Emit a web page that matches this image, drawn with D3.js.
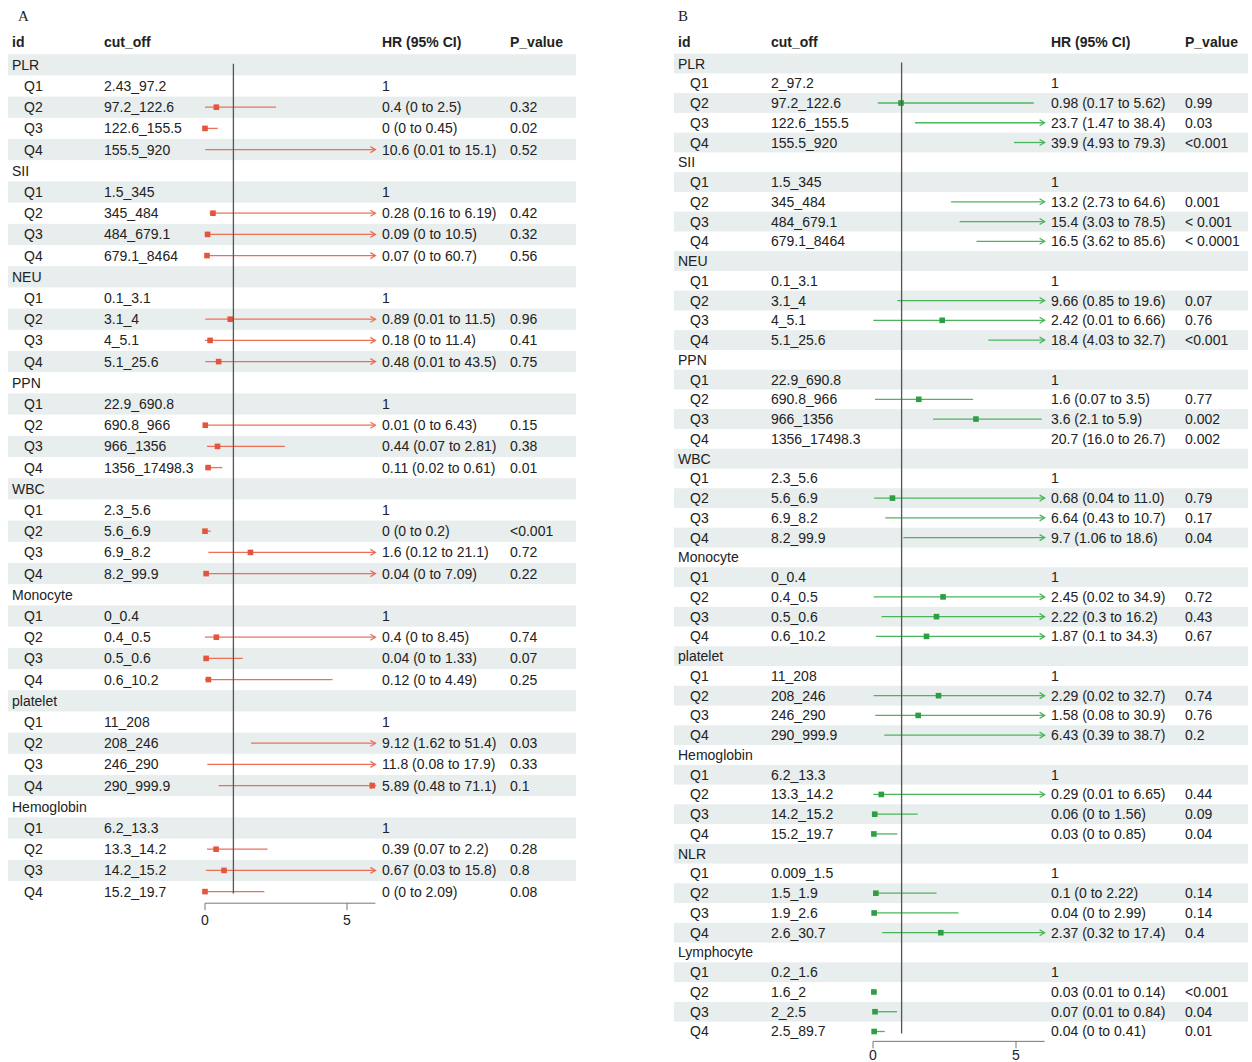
<!DOCTYPE html>
<html>
<head>
<meta charset="utf-8">
<script src="https://cdn.jsdelivr.net/npm/d3@7"></script>
<style>
  body { margin: 0; background: #fff; }
  svg text { font-family: 'Liberation Sans', Arial, sans-serif; fill: #222; }
</style>
</head>
<body>
<svg id="chart" width="1252" height="1062"></svg>
<script>
// ---- panel A ----
var aGroups = ['PLR', 'SII', 'NEU', 'PPN', 'WBC', 'Monocyte', 'platelet', 'Hemoglobin'];
var aCutoffs = [
  ['2.43_97.2', '97.2_122.6', '122.6_155.5', '155.5_920'],
  ['1.5_345', '345_484', '484_679.1', '679.1_8464'],
  ['0.1_3.1', '3.1_4', '4_5.1', '5.1_25.6'],
  ['22.9_690.8', '690.8_966', '966_1356', '1356_17498.3'],
  ['2.3_5.6', '5.6_6.9', '6.9_8.2', '8.2_99.9'],
  ['0_0.4', '0.4_0.5', '0.5_0.6', '0.6_10.2'],
  ['11_208', '208_246', '246_290', '290_999.9'],
  ['6.2_13.3', '13.3_14.2', '14.2_15.2', '15.2_19.7']
];
// Q2..Q4 of each group (Q1 is the reference, HR = 1)
var aEst  = [[0.4, 0, 10.6], [0.28, 0.09, 0.07], [0.89, 0.18, 0.48], [0.01, 0.44, 0.11],
             [0, 1.6, 0.04], [0.4, 0.04, 0.12], [9.12, 11.8, 5.89], [0.39, 0.67, 0]];
var aLow  = [[0, 0, 0.01], [0.16, 0, 0], [0.01, 0, 0.01], [0, 0.07, 0.02],
             [0, 0.12, 0], [0, 0, 0], [1.62, 0.08, 0.48], [0.07, 0.03, 0]];
var aHigh = [[2.5, 0.45, 15.1], [6.19, 10.5, 60.7], [11.5, 11.4, 43.5], [6.43, 2.81, 0.61],
             [0.2, 21.1, 7.09], [8.45, 1.33, 4.49], [51.4, 17.9, 71.1], [2.2, 15.8, 2.09]];
var aHrText = [
  ['0.4 (0 to 2.5)', '0 (0 to 0.45)', '10.6 (0.01 to 15.1)'],
  ['0.28 (0.16 to 6.19)', '0.09 (0 to 10.5)', '0.07 (0 to 60.7)'],
  ['0.89 (0.01 to 11.5)', '0.18 (0 to 11.4)', '0.48 (0.01 to 43.5)'],
  ['0.01 (0 to 6.43)', '0.44 (0.07 to 2.81)', '0.11 (0.02 to 0.61)'],
  ['0 (0 to 0.2)', '1.6 (0.12 to 21.1)', '0.04 (0 to 7.09)'],
  ['0.4 (0 to 8.45)', '0.04 (0 to 1.33)', '0.12 (0 to 4.49)'],
  ['9.12 (1.62 to 51.4)', '11.8 (0.08 to 17.9)', '5.89 (0.48 to 71.1)'],
  ['0.39 (0.07 to 2.2)', '0.67 (0.03 to 15.8)', '0 (0 to 2.09)']
];
var aP = [['0.32', '0.02', '0.52'], ['0.42', '0.32', '0.56'], ['0.96', '0.41', '0.75'],
          ['0.15', '0.38', '0.01'], ['<0.001', '0.72', '0.22'], ['0.74', '0.07', '0.25'],
          ['0.03', '0.33', '0.1'], ['0.28', '0.8', '0.08']];

// ---- panel B ----
var bGroups = ['PLR', 'SII', 'NEU', 'PPN', 'WBC', 'Monocyte', 'platelet', 'Hemoglobin', 'NLR', 'Lymphocyte'];
var bCutoffs = [
  ['2_97.2', '97.2_122.6', '122.6_155.5', '155.5_920'],
  ['1.5_345', '345_484', '484_679.1', '679.1_8464'],
  ['0.1_3.1', '3.1_4', '4_5.1', '5.1_25.6'],
  ['22.9_690.8', '690.8_966', '966_1356', '1356_17498.3'],
  ['2.3_5.6', '5.6_6.9', '6.9_8.2', '8.2_99.9'],
  ['0_0.4', '0.4_0.5', '0.5_0.6', '0.6_10.2'],
  ['11_208', '208_246', '246_290', '290_999.9'],
  ['6.2_13.3', '13.3_14.2', '14.2_15.2', '15.2_19.7'],
  ['0.009_1.5', '1.5_1.9', '1.9_2.6', '2.6_30.7'],
  ['0.2_1.6', '1.6_2', '2_2.5', '2.5_89.7']
];
var bEst  = [[0.98, 23.7, 39.9], [13.2, 15.4, 16.5], [9.66, 2.42, 18.4], [1.6, 3.6, 20.7],
             [0.68, 6.64, 9.7], [2.45, 2.22, 1.87], [2.29, 1.58, 6.43], [0.29, 0.06, 0.03],
             [0.1, 0.04, 2.37], [0.03, 0.07, 0.04]];
var bLow  = [[0.17, 1.47, 4.93], [2.73, 3.03, 3.62], [0.85, 0.01, 4.03], [0.07, 2.1, 16.0],
             [0.04, 0.43, 1.06], [0.02, 0.3, 0.1], [0.02, 0.08, 0.39], [0.01, 0, 0],
             [0, 0, 0.32], [0.01, 0.01, 0]];
var bHigh = [[5.62, 38.4, 79.3], [64.6, 78.5, 85.6], [19.6, 6.66, 32.7], [3.5, 5.9, 26.7],
             [11.0, 10.7, 18.6], [34.9, 16.2, 34.3], [32.7, 30.9, 38.7], [6.65, 1.56, 0.85],
             [2.22, 2.99, 17.4], [0.14, 0.84, 0.41]];
var bHrText = [
  ['0.98 (0.17 to 5.62)', '23.7 (1.47 to 38.4)', '39.9 (4.93 to 79.3)'],
  ['13.2 (2.73 to 64.6)', '15.4 (3.03 to 78.5)', '16.5 (3.62 to 85.6)'],
  ['9.66 (0.85 to 19.6)', '2.42 (0.01 to 6.66)', '18.4 (4.03 to 32.7)'],
  ['1.6 (0.07 to 3.5)', '3.6 (2.1 to 5.9)', '20.7 (16.0 to 26.7)'],
  ['0.68 (0.04 to 11.0)', '6.64 (0.43 to 10.7)', '9.7 (1.06 to 18.6)'],
  ['2.45 (0.02 to 34.9)', '2.22 (0.3 to 16.2)', '1.87 (0.1 to 34.3)'],
  ['2.29 (0.02 to 32.7)', '1.58 (0.08 to 30.9)', '6.43 (0.39 to 38.7)'],
  ['0.29 (0.01 to 6.65)', '0.06 (0 to 1.56)', '0.03 (0 to 0.85)'],
  ['0.1 (0 to 2.22)', '0.04 (0 to 2.99)', '2.37 (0.32 to 17.4)'],
  ['0.03 (0.01 to 0.14)', '0.07 (0.01 to 0.84)', '0.04 (0 to 0.41)']
];
var bP = [['0.99', '0.03', '<0.001'], ['0.001', '< 0.001', '< 0.0001'], ['0.07', '0.76', '<0.001'],
          ['0.77', '0.002', '0.002'], ['0.79', '0.17', '0.04'], ['0.72', '0.43', '0.67'],
          ['0.74', '0.76', '0.2'], ['0.44', '0.09', '0.04'], ['0.14', '0.14', '0.4'],
          ['<0.001', '0.04', '0.01']];

var headers = ['id', 'cut_off', 'HR (95% CI)', 'P_value'];
var xTicks = [0, 5];
var xDomain = [0, 6];

var svg = d3.select('#chart');

function build_rows(groups, cutoffs, est, low, high, hrText, pvals)
{
  var rows = [];
  groups.forEach((g, gi) => {
    rows.push({id: g, group: true});
    cutoffs[gi].forEach((c, qi) => {
      if (qi === 0) {
        rows.push({id: 'Q1', cut: c, hr: '1', p: ''});
      } else {
        rows.push({id: 'Q' + (qi + 1), cut: c, hr: hrText[gi][qi - 1], p: pvals[gi][qi - 1],
                   est: est[gi][qi - 1], lo: low[gi][qi - 1], hi: high[gi][qi - 1]});
      }
    });
  });
  return rows;
}

function draw_panel(cfg, rows)
{
  var g = svg.append('g');
  var y = d3.scaleLinear().domain([0, 1]).range([cfg.top, cfg.top + cfg.rowH]);
  var x = d3.scaleLinear().domain(xDomain).range([cfg.plotL, cfg.plotR]);

  g.append('text')
    .text(cfg.title)
    .attr('x', cfg.titleX).attr('y', 16)
    .attr('dominant-baseline', 'central')
    .style('font-family', "'Liberation Serif', 'Times New Roman', serif")
    .style('font-size', '15px');

  // header
  var headX = [cfg.idX, cfg.cutX, cfg.hrX, cfg.pX];
  headers.forEach((h, i) => {
    g.append('text')
      .text(h)
      .attr('x', headX[i]).attr('y', 42)
      .attr('dominant-baseline', 'central')
      .style('font-size', '14px')
      .style('font-weight', 'bold');
  });

  // shaded bands
  g.append('g')
    .selectAll('rect')
    .data(rows.filter((d, i) => i % 2 === 0).map((d, k) => k * 2))
    .enter()
    .append('rect')
    .attr('x', cfg.bandL)
    .attr('width', cfg.bandR - cfg.bandL)
    .attr('y', i => y(i) - cfg.rowH / 2)
    .attr('height', cfg.rowH)
    .attr('fill', '#e8eded');

  var rowG = g.append('g')
    .selectAll('g')
    .data(rows)
    .enter()
    .append('g')
    .attr('transform', (d, i) => 'translate(0,' + y(i) + ')');

  rowG.append('text')
    .text(d => d.id)
    .attr('x', d => d.group ? cfg.idX : cfg.idX + 12)
    .attr('dominant-baseline', 'central')
    .style('font-size', '14px');

  rowG.append('text')
    .text(d => d.cut || '')
    .attr('x', cfg.cutX)
    .attr('dominant-baseline', 'central')
    .style('font-size', '14px');

  rowG.append('text')
    .text(d => d.hr || '')
    .attr('x', cfg.hrX)
    .attr('dominant-baseline', 'central')
    .style('font-size', '14px');

  rowG.append('text')
    .text(d => d.p || '')
    .attr('x', cfg.pX)
    .attr('dominant-baseline', 'central')
    .style('font-size', '14px');

  // reference line at HR = 1
  g.append('line')
    .attr('x1', x(1)).attr('x2', x(1))
    .attr('y1', y(0) - 1).attr('y2', y(rows.length - 1) + 2)
    .attr('stroke', '#555')
    .attr('stroke-width', 1.3);

  var ci = rowG.filter(d => d.est !== undefined && d.lo < xDomain[1]);
  var clip = v => Math.max(xDomain[0], Math.min(xDomain[1], v));

  ci.append('line')
    .attr('x1', d => x(clip(d.lo)))
    .attr('x2', d => x(clip(d.hi)))
    .attr('stroke', cfg.lineColor)
    .attr('stroke-width', 1.3);

  ci.filter(d => d.hi > xDomain[1])
    .append('path')
    .attr('d', 'M' + (x(xDomain[1]) - 5) + ',-3L' + x(xDomain[1]) + ',0L' + (x(xDomain[1]) - 5) + ',3')
    .attr('fill', 'none')
    .attr('stroke', cfg.lineColor)
    .attr('stroke-width', 1.3);

  ci.filter(d => d.est <= xDomain[1])
    .append('rect')
    .attr('x', d => x(d.est) - 2.8)
    .attr('y', -2.8)
    .attr('width', 5.6)
    .attr('height', 5.6)
    .attr('fill', cfg.pointColor);

  // x axis
  var axisY = y(rows.length - 1) + cfg.rowH / 2 + cfg.axisGap;
  var ax = g.append('g').attr('transform', 'translate(0,' + axisY + ')');
  ax.append('line')
    .attr('x1', x(xDomain[0])).attr('x2', x(xDomain[1]))
    .attr('stroke', '#777').attr('stroke-width', 1);
  ax.selectAll('.tick')
    .data(xTicks)
    .enter()
    .append('line')
    .attr('x1', d => x(d)).attr('x2', d => x(d))
    .attr('y1', 0).attr('y2', 7)
    .attr('stroke', '#777').attr('stroke-width', 1);
  ax.selectAll('.tlab')
    .data(xTicks)
    .enter()
    .append('text')
    .text(d => d)
    .attr('x', d => x(d))
    .attr('y', cfg.labelGap)
    .attr('text-anchor', 'middle')
    .attr('dominant-baseline', 'central')
    .style('font-size', '14px');
}

var rowsA = build_rows(aGroups, aCutoffs, aEst, aLow, aHigh, aHrText, aP);
var rowsB = build_rows(bGroups, bCutoffs, bEst, bLow, bHigh, bHrText, bP);

draw_panel({title: 'A', titleX: 18, top: 64.8, rowH: 21.2, axisGap: 1, labelGap: 17,
            idX: 12, cutX: 104, hrX: 382, pX: 510, bandL: 8, bandR: 576,
            plotL: 205, plotR: 375.4, lineColor: '#ec7058', pointColor: '#e4553c'}, rowsA);

draw_panel({title: 'B', titleX: 678, top: 63.5, rowH: 19.755, axisGap: 0, labelGap: 14,
            idX: 678, cutX: 771, hrX: 1051, pX: 1185, bandL: 674, bandR: 1248,
            plotL: 873, plotR: 1044.6, lineColor: '#4cb55c', pointColor: '#2e9e44'}, rowsB);
</script>
</body>
</html>
